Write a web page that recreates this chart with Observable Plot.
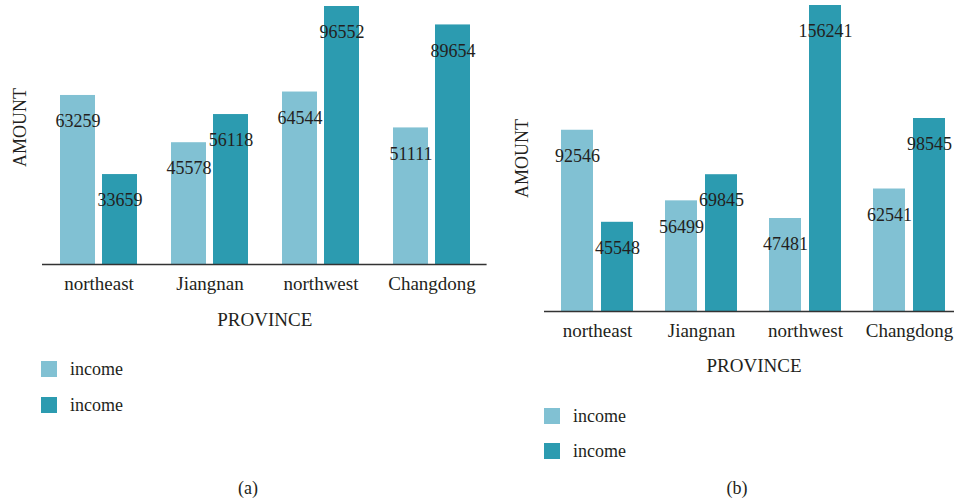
<!DOCTYPE html>
<html><head><meta charset="utf-8">
<script src="https://cdn.jsdelivr.net/npm/d3@7"></script>
<script src="https://cdn.jsdelivr.net/npm/@observablehq/plot@0.6"></script>
<style>
html,body{margin:0;padding:0;width:954px;height:504px;overflow:hidden;background:#fff;font-family:"Liberation Serif",serif;color:#231f20}
#wrap{position:relative;width:954px;height:504px;overflow:hidden}
.panel{position:absolute;top:0}
.item{position:absolute;height:16px;display:flex;align-items:center;white-space:nowrap;font-size:18px;line-height:16px}
.sw{width:16px;height:16px;margin-right:13px;flex:none}
.cap{position:absolute;font-size:18px;line-height:18px;transform:translateX(-50%)}
</style></head>
<body><div id="wrap"></div>
<script>
// ---- data ----
const provinces = ["northeast", "Jiangnan", "northwest", "Changdong"];
const seriesLabels = ["income", "income"];
const seriesColors = ["#81c1d3", "#2c9bb0"];
const incomeA1 = [63259, 45578, 64544, 51111];
const incomeA2 = [33659, 56118, 96552, 89654];
const incomeB1 = [92546, 56499, 47481, 62541];
const incomeB2 = [45548, 69845, 156241, 98545];
const axisLabels = ["PROVINCE", "AMOUNT"];
const captions = ["(a)", "(b)"];

const FONT = "Liberation Serif, serif";
const wrap = document.getElementById("wrap");

function makePanel(v1, v2, o) {
  const rows1 = provinces.map((p, i) => ({province: p, value: v1[i]}));
  const rows2 = provinces.map((p, i) => ({province: p, value: v2[i]}));
  const off = (o.bar + o.gap) / 2;
  const chart = Plot.plot({
    width: o.width, height: o.height,
    marginLeft: o.ml, marginRight: o.mr, marginTop: o.mt, marginBottom: o.mb,
    style: {fontFamily: FONT, fontSize: "18px", color: "#231f20", background: "transparent", overflow: "visible"},
    x: {domain: provinces, paddingInner: o.pi, paddingOuter: o.pi / 2},
    y: {domain: [0, d3.max([...v1, ...v2])], axis: null},
    marks: [
      Plot.barY(rows1, {x: "province", y: "value", fill: seriesColors[0], insetRight: o.bar + o.gap}),
      Plot.barY(rows2, {x: "province", y: "value", fill: seriesColors[1], insetLeft: o.bar + o.gap}),
      Plot.text(rows1, {x: "province", y: "value", text: d => String(d.value), dx: -off, dy: 26, fill: "#231f20", fontSize: 18, fontFamily: FONT}),
      Plot.text(rows2, {x: "province", y: "value", text: d => String(d.value), dx: off, dy: 26, fill: "#231f20", fontSize: 18, fontFamily: FONT}),
      Plot.ruleY([0], {stroke: "#333", strokeWidth: 1.5}),
      Plot.axisX({tickSize: 0, tickPadding: 12, label: axisLabels[0], labelAnchor: "center", labelOffset: o.xlo, fontSize: 19}),
      Plot.text([axisLabels[1]], {frameAnchor: "left", textAnchor: "middle", rotate: -90, dx: -22, dy: o.ydy, fill: "#231f20", fontSize: 18, fontFamily: FONT})
    ]
  });
  chart.classList.add("panel");
  chart.style.left = o.left + "px";
  wrap.appendChild(chart);

  seriesLabels.forEach((lab, i) => {
    const it = document.createElement("div");
    it.className = "item";
    it.style.left = o.legX + "px";
    it.style.top = (o.legY + i * o.legStep) + "px";
    const sw = document.createElement("div");
    sw.className = "sw";
    sw.style.background = seriesColors[i];
    const tx = document.createElement("span");
    tx.textContent = lab;
    it.appendChild(sw); it.appendChild(tx);
    wrap.appendChild(it);
  });
  const cap = document.createElement("div");
  cap.className = "cap";
  cap.textContent = o.caption;
  cap.style.left = o.capX + "px";
  cap.style.top = o.capY + "px";
  wrap.appendChild(cap);
}

makePanel(incomeA1, incomeA2, {
  left: 0, width: 490, height: 340, ml: 42, mr: 3.4, mt: 6, mb: 76,
  pi: 0.31, bar: 35, gap: 7, xlo: 61, ydy: -8,
  legX: 41, legY: 361, legStep: 36, caption: captions[0], capX: 248, capY: 479
});
makePanel(incomeB1, incomeB2, {
  left: 480, width: 483, height: 385, ml: 64, mr: 0, mt: 5, mb: 74,
  pi: 0.303, bar: 33, gap: 7, xlo: 60, ydy: 0,
  legX: 544, legY: 408, legStep: 35, caption: captions[1], capX: 737, capY: 479
});
</script>
</body></html>
